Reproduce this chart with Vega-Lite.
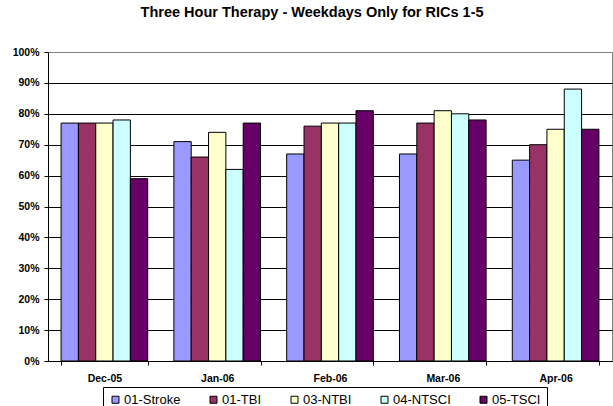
{
  "$schema": "https://vega.github.io/schema/vega-lite/v6.json",
  "width": 564,
  "height": 309,
  "autosize": {"type": "none"},
  "padding": {"left": 48, "top": 52, "right": 1, "bottom": 45},
  "background": "white",
  "title": {
    "text": "Three Hour Therapy - Weekdays Only for RICs 1-5",
    "font": "Liberation Sans",
    "fontSize": 14.5,
    "fontWeight": "bold",
    "color": "black",
    "anchor": "middle",
    "frame": "bounds",
    "baseline": "middle",
    "offset": 20
  },
  "config": {
    "view": {"stroke": "#808080", "strokeWidth": 1},
    "axis": {
      "domainColor": "black",
      "tickColor": "black",
      "labelColor": "black",
      "labelFont": "Liberation Sans",
      "labelFontWeight": "bold",
      "labelFontSize": 10.5,
      "tickSize": 4,
      "title": null
    }
  },
  "data": {
    "values": [
      {"month": "Dec-05", "series": "01-Stroke", "value": 0.77},
      {"month": "Dec-05", "series": "01-TBI", "value": 0.77},
      {"month": "Dec-05", "series": "03-NTBI", "value": 0.77},
      {"month": "Dec-05", "series": "04-NTSCI", "value": 0.78},
      {"month": "Dec-05", "series": "05-TSCI", "value": 0.59},
      {"month": "Jan-06", "series": "01-Stroke", "value": 0.71},
      {"month": "Jan-06", "series": "01-TBI", "value": 0.66},
      {"month": "Jan-06", "series": "03-NTBI", "value": 0.74},
      {"month": "Jan-06", "series": "04-NTSCI", "value": 0.62},
      {"month": "Jan-06", "series": "05-TSCI", "value": 0.77},
      {"month": "Feb-06", "series": "01-Stroke", "value": 0.67},
      {"month": "Feb-06", "series": "01-TBI", "value": 0.76},
      {"month": "Feb-06", "series": "03-NTBI", "value": 0.77},
      {"month": "Feb-06", "series": "04-NTSCI", "value": 0.77},
      {"month": "Feb-06", "series": "05-TSCI", "value": 0.81},
      {"month": "Mar-06", "series": "01-Stroke", "value": 0.67},
      {"month": "Mar-06", "series": "01-TBI", "value": 0.77},
      {"month": "Mar-06", "series": "03-NTBI", "value": 0.81},
      {"month": "Mar-06", "series": "04-NTSCI", "value": 0.80},
      {"month": "Mar-06", "series": "05-TSCI", "value": 0.78},
      {"month": "Apr-06", "series": "01-Stroke", "value": 0.65},
      {"month": "Apr-06", "series": "01-TBI", "value": 0.70},
      {"month": "Apr-06", "series": "03-NTBI", "value": 0.75},
      {"month": "Apr-06", "series": "04-NTSCI", "value": 0.88},
      {"month": "Apr-06", "series": "05-TSCI", "value": 0.75}
    ]
  },
  "mark": {"type": "bar", "stroke": "black", "strokeWidth": 1},
  "encoding": {
    "x": {
      "field": "month",
      "type": "nominal",
      "sort": ["Dec-05", "Jan-06", "Feb-06", "Mar-06", "Apr-06"],
      "scale": {"paddingInner": 0.232, "paddingOuter": 0.116},
      "axis": {
        "labelAngle": 0,
        "tickBand": "extent",
        "labelBaseline": "middle",
        "labelPadding": 13,
        "grid": false
      }
    },
    "xOffset": {
      "field": "series",
      "type": "nominal",
      "sort": ["01-Stroke", "01-TBI", "03-NTBI", "04-NTSCI", "05-TSCI"],
      "scale": {"paddingInner": 0, "paddingOuter": 0}
    },
    "y": {
      "field": "value",
      "type": "quantitative",
      "scale": {"domain": [0, 1]},
      "axis": {
        "format": ".0%",
        "values": [0, 0.1, 0.2, 0.3, 0.4, 0.5, 0.6, 0.7, 0.8, 0.9, 1],
        "grid": true,
        "gridColor": {"condition": {"test": "datum.value === 1", "value": "#808080"}, "value": "black"},
        "labelPadding": 5
      }
    },
    "color": {
      "field": "series",
      "type": "nominal",
      "scale": {
        "domain": ["01-Stroke", "01-TBI", "03-NTBI", "04-NTSCI", "05-TSCI"],
        "range": ["#9999FF", "#993366", "#FFFFCC", "#CCFFFF", "#660066"]
      },
      "legend": {
        "title": null,
        "orient": "none",
        "direction": "horizontal",
        "legendX": 55,
        "legendY": 335,
        "padding": 6,
        "strokeColor": "black",
        "fillColor": "white",
        "symbolType": "square",
        "symbolSize": 49,
        "symbolStrokeColor": "black",
        "symbolStrokeWidth": 1,
        "symbolOpacity": 1,
        "labelFont": "Liberation Sans",
        "labelFontSize": 13,
        "labelColor": "black",
        "labelOffset": 2,
        "columnPadding": 26
      }
    }
  }
}
